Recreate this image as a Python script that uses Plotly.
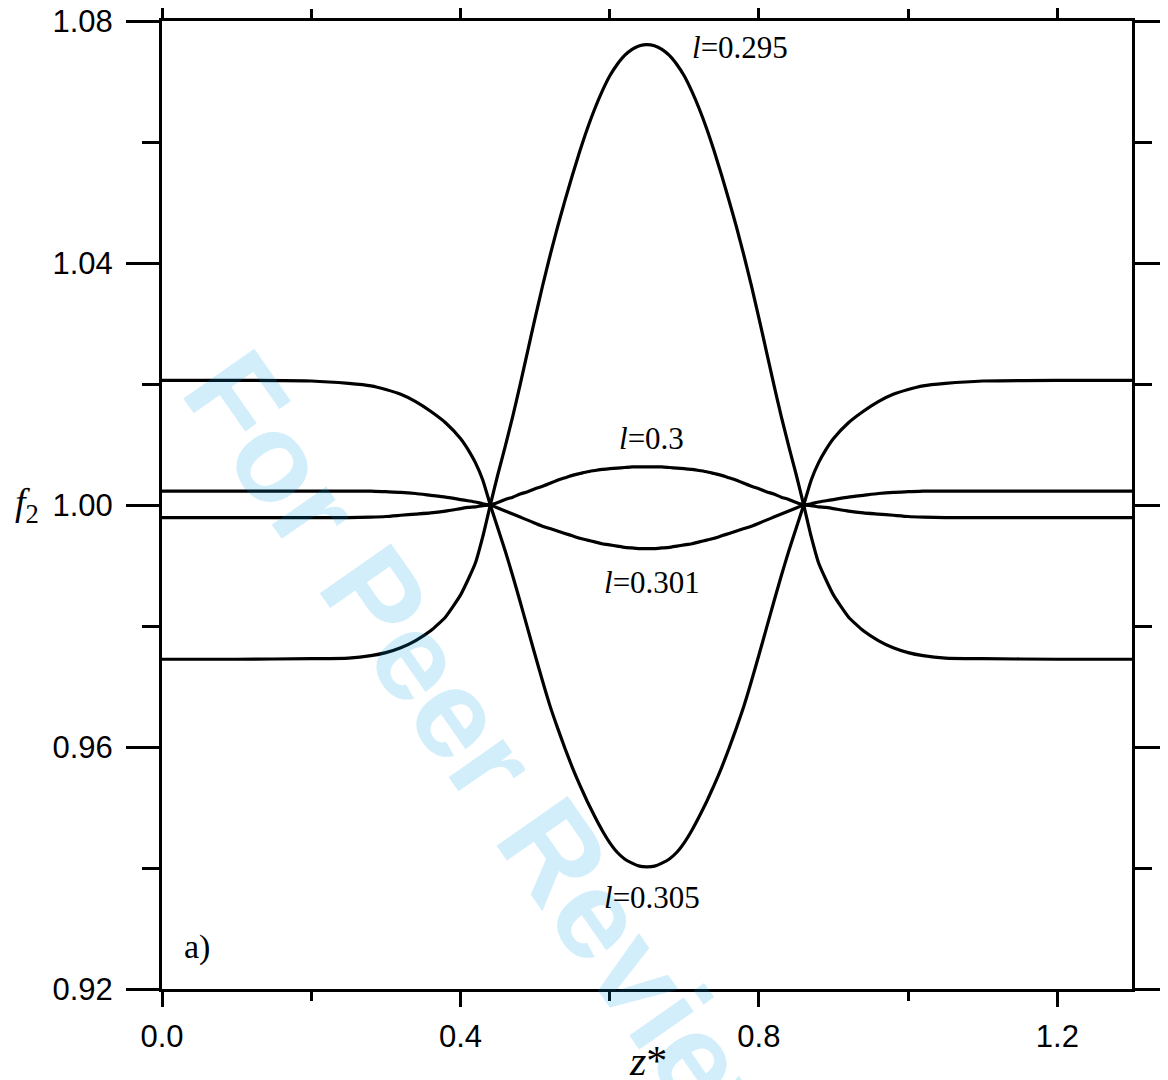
import plotly.graph_objects as go

# ---- data ----
z_star = [0.00, 0.10, 0.20, 0.25, 0.28, 0.30, 0.32, 0.34, 0.36, 0.38, 0.40, 0.41, 0.42, 0.43, 0.44,
          0.45, 0.46, 0.47, 0.48, 0.49, 0.50, 0.51, 0.52, 0.53, 0.54, 0.55, 0.56, 0.57, 0.58, 0.59,
          0.60, 0.61, 0.62, 0.63, 0.64, 0.65,
          0.66, 0.67, 0.68, 0.69, 0.70, 0.71, 0.72, 0.73, 0.74, 0.75, 0.76, 0.77, 0.78, 0.79,
          0.80, 0.81, 0.82, 0.83, 0.84, 0.85,
          0.86, 0.87, 0.88, 0.89, 0.90, 0.92, 0.94, 0.96, 0.98, 1.00, 1.02, 1.05, 1.10, 1.20, 1.30]

f2_l0295 = [0.9745, 0.9745, 0.9746, 0.9747, 0.9751, 0.9756, 0.9764, 0.9776, 0.9792, 0.9815, 0.9851, 0.9876, 0.9904, 0.9948, 1.0000,
            1.0050, 1.0097, 1.0146, 1.0199, 1.0254, 1.0309, 1.0362, 1.0412, 1.0459, 1.0503, 1.0545, 1.0585, 1.0622, 1.0655, 1.0684,
            1.0709, 1.0728, 1.0743, 1.0753, 1.0759, 1.0761,
            1.0759, 1.0753, 1.0743, 1.0728, 1.0709, 1.0684, 1.0655, 1.0622, 1.0585, 1.0545, 1.0503, 1.0459, 1.0412, 1.0362,
            1.0309, 1.0254, 1.0199, 1.0146, 1.0097, 1.0050,
            1.0000, 0.9948, 0.9904, 0.9876, 0.9851, 0.9815, 0.9792, 0.9776, 0.9764, 0.9756, 0.9751, 0.9747, 0.9746, 0.9745, 0.9745]

f2_l0300 = [0.9979, 0.9979, 0.9979, 0.9979, 0.9980, 0.9981, 0.9983, 0.9985, 0.9987, 0.9990, 0.9994, 0.9996, 0.9997, 0.9999, 1.0000,
            1.0004, 1.0009, 1.0013, 1.0018, 1.0022, 1.0027, 1.0031, 1.0036, 1.0041, 1.0045, 1.0049, 1.0052, 1.0055, 1.0057, 1.0059,
            1.0060, 1.0061, 1.0062, 1.0063, 1.0063, 1.0063,
            1.0063, 1.0063, 1.0062, 1.0061, 1.0060, 1.0059, 1.0057, 1.0055, 1.0052, 1.0049, 1.0045, 1.0041, 1.0036, 1.0031,
            1.0027, 1.0022, 1.0018, 1.0013, 1.0009, 1.0004,
            1.0000, 0.9999, 0.9997, 0.9996, 0.9994, 0.9990, 0.9987, 0.9985, 0.9983, 0.9981, 0.9980, 0.9979, 0.9979, 0.9979, 0.9979]

f2_l0301 = [1.0023, 1.0023, 1.0023, 1.0023, 1.0023, 1.0022, 1.0021, 1.0019, 1.0016, 1.0013, 1.0009, 1.0007, 1.0005, 1.0002, 1.0000,
            0.9995, 0.9990, 0.9985, 0.9980, 0.9975, 0.9970, 0.9965, 0.9961, 0.9957, 0.9953, 0.9949, 0.9945, 0.9942, 0.9939, 0.9936,
            0.9934, 0.9932, 0.9930, 0.9929, 0.9928, 0.9928,
            0.9928, 0.9929, 0.9930, 0.9932, 0.9934, 0.9936, 0.9939, 0.9942, 0.9945, 0.9949, 0.9953, 0.9957, 0.9961, 0.9965,
            0.9970, 0.9975, 0.9980, 0.9985, 0.9990, 0.9995,
            1.0000, 1.0002, 1.0005, 1.0007, 1.0009, 1.0013, 1.0016, 1.0019, 1.0021, 1.0022, 1.0023, 1.0023, 1.0023, 1.0023, 1.0023]

f2_l0305 = [1.0206, 1.0206, 1.0205, 1.0201, 1.0197, 1.0191, 1.0183, 1.0171, 1.0155, 1.0136, 1.0110, 1.0092, 1.0070, 1.0041, 1.0000,
            0.9962, 0.9924, 0.9883, 0.9840, 0.9796, 0.9752, 0.9709, 0.9668, 0.9632, 0.9598, 0.9566, 0.9537, 0.9510, 0.9485, 0.9462,
            0.9442, 0.9426, 0.9415, 0.9408, 0.9403, 0.9402,
            0.9403, 0.9408, 0.9415, 0.9426, 0.9442, 0.9462, 0.9485, 0.9510, 0.9537, 0.9566, 0.9598, 0.9632, 0.9668, 0.9709,
            0.9752, 0.9796, 0.9840, 0.9883, 0.9924, 0.9962,
            1.0000, 1.0041, 1.0070, 1.0092, 1.0110, 1.0136, 1.0155, 1.0171, 1.0183, 1.0191, 1.0197, 1.0201, 1.0205, 1.0206, 1.0206]

series = [("l=0.295", f2_l0295), ("l=0.3", f2_l0300), ("l=0.301", f2_l0301), ("l=0.305", f2_l0305)]

x_ticks = [0.0, 0.4, 0.8, 1.2]
x_ticktext = ["0.0", "0.4", "0.8", "1.2"]
x_minor = [0.2, 0.6, 1.0]
y_ticks = [0.92, 0.96, 1.00, 1.04, 1.08]
y_ticktext = ["0.92", "0.96", "1.00", "1.04", "1.08"]
y_minor = [0.94, 0.98, 1.02, 1.06]

# curve labels: (text, z, f2)
curve_labels = [("<i>l</i>=0.295", 0.774, 1.0757),
                ("<i>l</i>=0.3", 0.6565, 1.0110),
                ("<i>l</i>=0.301", 0.6565, 0.9872),
                ("<i>l</i>=0.305", 0.6565, 0.9351)]

fig = go.Figure()
for name, vals in series:
    fig.add_trace(go.Scatter(x=z_star, y=vals, mode="lines", name=name,
                             line=dict(color="black", width=3.2, shape="spline", smoothing=0.5),
                             showlegend=False, hoverinfo="skip"))

serif = "Liberation Serif, Times New Roman, serif"
sans = "Liberation Sans, Arial, sans-serif"

annotations = []
# watermark (semi-transparent so the black curves stay dark)
annotations.append(dict(text="<b>For Peer Review</b>", xref="paper", yref="paper",
                        x=0.344, y=0.228, xanchor="center", yanchor="middle",
                        textangle=55, showarrow=False,
                        font=dict(family=sans, size=126, color="rgba(10,160,235,0.18)")))
for txt, zx, fy in curve_labels:
    annotations.append(dict(text=txt, x=zx, y=fy, xref="x", yref="y", showarrow=False,
                            xanchor="center", yanchor="middle",
                            font=dict(family=serif, size=31, color="black")))
annotations.append(dict(text="a)", x=0.0466, y=0.9270, xref="x", yref="y", showarrow=False,
                        xanchor="center", yanchor="middle",
                        font=dict(family=serif, size=34, color="black")))
# axis titles
annotations.append(dict(text="<i>f</i><sub>2</sub>", xref="paper", yref="paper",
                        x=-0.139, y=0.500, xanchor="center", yanchor="middle", showarrow=False,
                        font=dict(family=serif, size=38, color="black")))
annotations.append(dict(text="<i>z</i>*", xref="paper", yref="paper",
                        x=0.5012, y=-0.0745, xanchor="center", yanchor="middle", showarrow=False,
                        font=dict(family=serif, size=42, color="black")))

fig.update_layout(
    width=1160, height=1072,
    margin=dict(l=154, r=36, t=13, b=91, autoexpand=False),
    plot_bgcolor="white", paper_bgcolor="white",
    annotations=annotations,
)

fig.update_xaxes(range=[0, 1.3], tickmode="array", tickvals=x_ticks, ticktext=x_ticktext,
                 automargin=False, ticklabeloverflow="allow",
                 ticks="outside", ticklen=15, tickwidth=3, tickcolor="black",
                 showline=True, linewidth=3, linecolor="black", mirror="ticks",
                 showgrid=False, zeroline=False, ticklabelstandoff=3,
                 tickfont=dict(family=sans, size=31, color="black"),
                 minor=dict(tickmode="array", tickvals=x_minor, ticks="outside",
                            ticklen=9, tickwidth=3, tickcolor="black", showgrid=False))
fig.update_yaxes(range=[0.92, 1.08], tickmode="array", tickvals=y_ticks, ticktext=y_ticktext,
                 automargin=False, ticklabeloverflow="allow",
                 ticks="outside", ticklen=33, tickwidth=3, tickcolor="black",
                 showline=True, linewidth=3, linecolor="black", mirror="ticks",
                 showgrid=False, zeroline=False, ticklabelstandoff=7,
                 tickfont=dict(family=sans, size=31, color="black"),
                 minor=dict(tickmode="array", tickvals=y_minor, ticks="outside",
                            ticklen=17, tickwidth=3, tickcolor="black", showgrid=False))

fig.write_html("out.html")
